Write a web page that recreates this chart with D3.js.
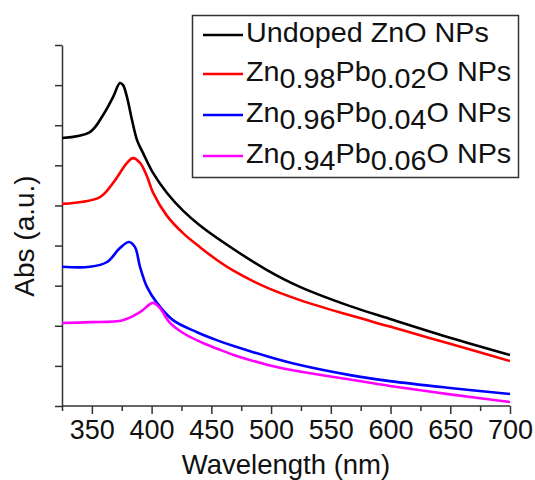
<!DOCTYPE html>
<html>
<head>
<meta charset="utf-8">
<script src="https://cdn.jsdelivr.net/npm/d3@7.9.0/dist/d3.min.js"></script>
<style>
  body { margin: 0; background: #fff; }
  svg { display: block; font-family: "Liberation Sans", Arial, sans-serif; }
  .axis path, .axis line { stroke: #333; stroke-width: 1.5; }
  .axis text { fill: #111; font-size: 27px; font-family: "Liberation Sans", Arial, sans-serif; }
</style>
</head>
<body>
<svg id="chart" width="535" height="480"></svg>
<script>
// UV-vis absorbance spectra
const undopedWl  = [325, 348.4, 359.3, 367.7, 373.5, 376.1, 379.4, 383.6, 387.8, 392.8, 401.2, 412.9, 426.3, 440.5, 465.6, 496.6, 524.2, 566.1, 599.5, 649.8, 700];
const undopedAbs = [0.668, 0.683, 0.725, 0.770, 0.805, 0.800, 0.770, 0.713, 0.663, 0.631, 0.581, 0.531, 0.487, 0.450, 0.397, 0.339, 0.297, 0.249, 0.217, 0.170, 0.127];

const pb02Wl  = [325, 356.8, 367.7, 379.4, 384.4, 390.3, 396.1, 401.2, 412.9, 426.3, 440.5, 454.7, 468.1, 496.6, 524.2, 566.1, 599.5, 649.8, 700];
const pb02Abs = [0.504, 0.521, 0.556, 0.606, 0.618, 0.606, 0.573, 0.532, 0.474, 0.431, 0.396, 0.364, 0.338, 0.295, 0.264, 0.226, 0.198, 0.155, 0.112];

const pb04Wl  = [325, 348.4, 362.7, 373.5, 381.1, 386.1, 390.3, 396.1, 404.5, 417.9, 438.0, 455.6, 468.1, 496.6, 524.2, 566.1, 599.5, 649.8, 700];
const pb04Abs = [0.347, 0.347, 0.359, 0.394, 0.409, 0.396, 0.347, 0.297, 0.257, 0.214, 0.184, 0.163, 0.150, 0.124, 0.102, 0.077, 0.062, 0.045, 0.030];

const pb06Wl  = [325, 348.4, 376.1, 390.3, 401.2, 407.0, 415.4, 426.3, 443.0, 455.6, 468.1, 496.6, 524.2, 566.1, 599.5, 649.8, 700];
const pb06Abs = [0.207, 0.209, 0.214, 0.234, 0.257, 0.244, 0.207, 0.182, 0.157, 0.142, 0.128, 0.103, 0.086, 0.066, 0.050, 0.029, 0.010];

const seriesNames = ["Undoped ZnO NPs", "Zn0.98Pb0.02O NPs", "Zn0.96Pb0.04O NPs", "Zn0.94Pb0.06O NPs"];
// legend pieces alternate normal / subscript
const legendParts = [
  ["Undoped ZnO NPs"],
  ["Zn", "0.98", "Pb", "0.02", "O NPs"],
  ["Zn", "0.96", "Pb", "0.04", "O NPs"],
  ["Zn", "0.94", "Pb", "0.06", "O NPs"]
];
const seriesColors = ["#000000", "#ff0000", "#0000ff", "#ff00ff"];

const xMajorTicks = [350, 400, 450, 500, 550, 600, 650, 700];
const xMinorTicks = [325, 375, 425, 475, 525, 575, 625, 675];
const yTicks = [0, 0.1, 0.2, 0.3, 0.4, 0.5, 0.6, 0.7, 0.8, 0.9];

const series = [
  { name: seriesNames[0], wl: undopedWl, abs: undopedAbs },
  { name: seriesNames[1], wl: pb02Wl, abs: pb02Abs },
  { name: seriesNames[2], wl: pb04Wl, abs: pb04Abs },
  { name: seriesNames[3], wl: pb06Wl, abs: pb06Abs }
];

const svg = d3.select('#chart');

const x = d3.scaleLinear().domain([325, 700]).range([62, 510]);
const y = d3.scaleLinear().domain([0, 0.9]).range([406, 45]);

// axes
svg.append('g')
  .attr('class', 'axis')
  .attr('transform', 'translate(0,406)')
  .call(d3.axisBottom(x).tickValues(xMinorTicks).tickSize(5).tickFormat(''))
  .call(g => g.select('.domain').remove());

svg.append('g')
  .attr('class', 'axis')
  .attr('transform', 'translate(0,406)')
  .call(d3.axisBottom(x).tickValues(xMajorTicks).tickSize(8).tickSizeOuter(0).tickPadding(6))
  .call(g => g.select('.domain').attr('d', `M${x.range()[0]},0H${x.range()[1]}`));

svg.append('g')
  .attr('class', 'axis')
  .attr('transform', 'translate(62,0)')
  .call(d3.axisLeft(y).tickValues(yTicks).tickSize(7).tickSizeOuter(0).tickFormat(''));

// curves
const line = d3.line()
  .x(d => x(d[0]))
  .y(d => y(d[1]))
  .curve(d3.curveCatmullRom.alpha(0.5));

series.forEach((s, i) => {
  svg.append('path')
    .datum(d3.zip(s.wl, s.abs))
    .attr('fill', 'none')
    .attr('stroke', seriesColors[i])
    .attr('stroke-width', 2.6)
    .attr('stroke-linejoin', 'round')
    .attr('d', line);
});

// axis titles
svg.append('text')
  .attr('x', 286)
  .attr('y', 474)
  .attr('text-anchor', 'middle')
  .attr('font-size', 27.5)
  .attr('fill', '#111')
  .text('Wavelength (nm)');

svg.append('text')
  .attr('transform', 'translate(34,236) rotate(-90)')
  .attr('text-anchor', 'middle')
  .attr('font-size', 28)
  .attr('fill', '#111')
  .text('Abs (a.u.)');

// legend
const legend = svg.append('g');
legend.append('rect')
  .attr('x', 192.5).attr('y', 15.5)
  .attr('width', 326).attr('height', 162)
  .attr('fill', '#fff')
  .attr('stroke', '#333')
  .attr('stroke-width', 1.5);

const rowBase = [42, 81, 122, 163];
legendParts.forEach((parts, i) => {
  legend.append('line')
    .attr('x1', 203).attr('x2', 243)
    .attr('y1', rowBase[i] - 7).attr('y2', rowBase[i] - 7)
    .attr('stroke', seriesColors[i])
    .attr('stroke-width', 2.5);
  const t = legend.append('text')
    .attr('transform', `translate(246,${rowBase[i]}) scale(1.065,1)`)
    .attr('font-size', 27)
    .attr('fill', '#111');
  parts.forEach((p, k) => {
    const isSub = k % 2 === 1;
    t.append('tspan')
      .attr('dy', k === 0 ? 0 : (isSub ? 7 : -7))
      .text(p);
  });
});
</script>
</body>
</html>
